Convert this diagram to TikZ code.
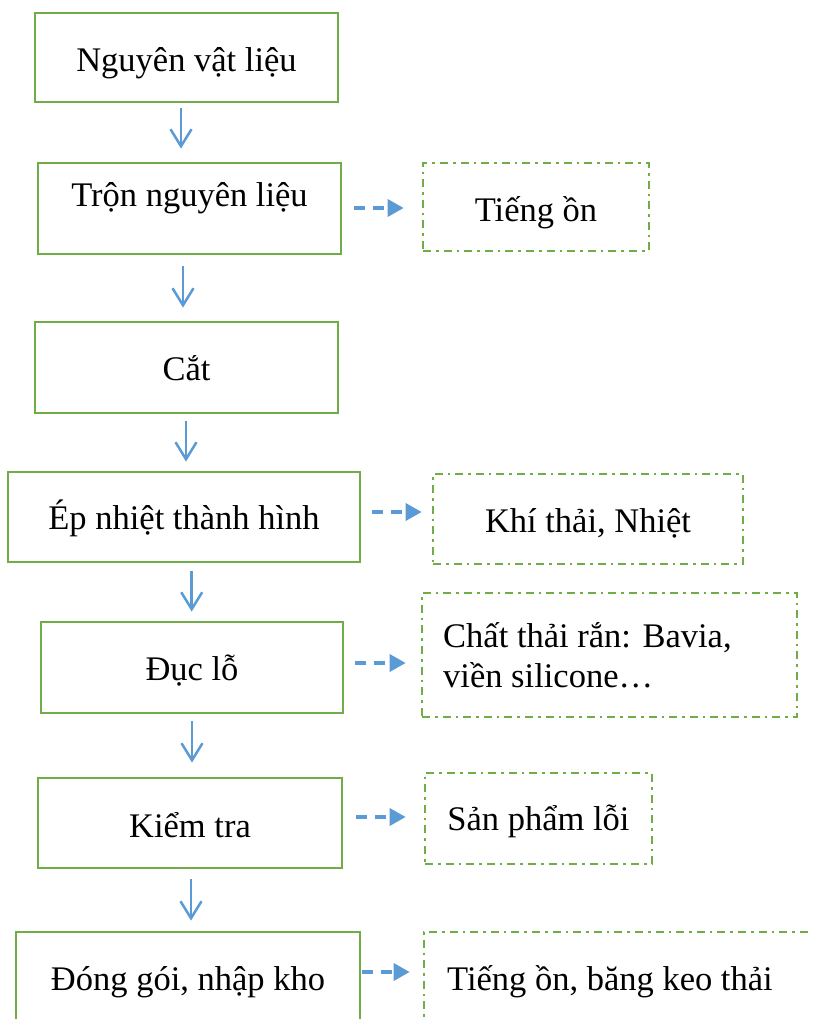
\documentclass[tikz,border=0pt]{standalone}
\usepackage{fontspec}
\setmainfont{Liberation Serif}
\usetikzlibrary{arrows.meta}
\definecolor{boxgreen}{HTML}{70AD47}
\definecolor{flowblue}{HTML}{5B9BD5}
\tikzset{
  stage/.style={draw=boxgreen, line width=2.8pt, rectangle, inner sep=0pt},
  output/.style={draw=boxgreen, line width=2.6pt, rectangle, inner sep=0pt,
    dash pattern=on 8pt off 5pt on 2.6pt off 5pt},
  lbl/.style={anchor=base, inner sep=0pt, font=\fontsize{34.5}{40}\selectfont},
  lbll/.style={lbl, anchor=base west},
  flow/.style={draw=flowblue, line width=2.5pt,
    -{Straight Barb[length=17pt,width=21pt]}},
  side/.style={draw=flowblue, line width=3.3pt, dash pattern=on 11pt off 8pt,
    -{Triangle[length=16pt,width=17pt]}},
}
\begin{document}
\begin{tikzpicture}[x=1pt, y=-1pt]
\clip (0,0) rectangle (813,1019);

% process stages
\node[stage, minimum width=303pt, minimum height=89pt] (n1) at (186.5,57.5) {};
\node[stage, minimum width=303pt, minimum height=91pt] (n2) at (189.5,208.5) {};
\node[stage, minimum width=303pt, minimum height=91pt] (n3) at (186.5,367.5) {};
\node[stage, minimum width=352pt, minimum height=90pt] (n4) at (184,517) {};
\node[stage, minimum width=302pt, minimum height=91pt] (n5) at (192,667.5) {};
\node[stage, minimum width=304pt, minimum height=90pt] (n6) at (190,823) {};
\node[stage, minimum width=344pt, minimum height=98pt] (n7) at (188,981) {};

\node[lbl] (t1) at (186.5,72) {Nguyên vật liệu};
\node[lbl] (t2) at (189.5,206) {Trộn nguyên liệu};
\node[lbl] (t3) at (186.5,380) {Cắt};
\node[lbl] (t4) at (184,529) {Ép nhiệt thành hình};
\node[lbl] (t5) at (192,680) {Đục lỗ};
\node[lbl] (t6) at (190,837) {Kiểm tra};
\node[lbl] (t7) at (188,990) {Đóng gói, nhập kho};

% emissions and waste
\node[output, minimum width=226pt, minimum height=88pt] (a) at (536,207) {};
\node[output, minimum width=310pt, minimum height=90pt] (b) at (588,519) {};
\node[output, minimum width=375pt, minimum height=124pt] (c) at (609.5,655) {};
\node[output, minimum width=227pt, minimum height=91pt] (d) at (538.5,818.5) {};
\node[output, minimum width=416pt, minimum height=108pt] (e) at (632,986) {};

\node[lbl] (ta) at (536,221) {Tiếng ồn};
\node[lbl] (tb) at (588,532) {Khí thải, Nhiệt};
\node[lbll] (tc1) at (443,647) {Chất thải rắn: Bavia,};
\node[lbll] (tc2) at (443,687) {viền silicone…};
\node[lbl] (td) at (538.5,830) {Sản phẩm lỗi};
\node[lbll] (te) at (447,990) {Tiếng ồn, băng keo thải};

% main flow
\draw[flow, shorten <=5pt, shorten >=13pt] ([xshift=-5.5pt]n1.south) coordinate (f1) -- (f1 |- n2.north);
\draw[flow, shorten <=11pt, shorten >=13pt] ([xshift=-6.5pt]n2.south) coordinate (f2) -- (f2 |- n3.north);
\draw[flow, shorten <=7pt, shorten >=9pt] ([xshift=-0.5pt]n3.south) coordinate (f3) -- (f3 |- n4.north);
\draw[flow, shorten <=8pt, shorten >=9pt] ([xshift=7.7pt]n4.south) coordinate (f4) -- (f4 |- n5.north);
\draw[flow, shorten <=7pt, shorten >=14pt] (n5.south) coordinate (f5) -- (f5 |- n6.north);
\draw[flow, shorten <=10pt, shorten >=10pt] ([xshift=1pt]n6.south) coordinate (f6) -- (f6 |- n7.north);

% side outputs
\draw[side, shorten <=12pt, shorten >=18pt] ([yshift=0.5pt]n2.east) coordinate (s2) -- (s2 -| a.west);
\draw[side, shorten <=11pt, shorten >=10pt] ([yshift=5pt]n4.east) coordinate (s4) -- (s4 -| b.west);
\draw[side, shorten <=11pt, shorten >=15pt] ([yshift=4.5pt]n5.east) coordinate (s5) -- (s5 -| c.west);
\draw[side, shorten <=13pt, shorten >=18pt] ([yshift=6pt]n6.east) coordinate (s6) -- (s6 -| d.west);
\draw[side, shorten <=1pt, shorten >=13pt] ([yshift=9pt]n7.east) coordinate (s7) -- (s7 -| e.west);
\end{tikzpicture}
\end{document}
